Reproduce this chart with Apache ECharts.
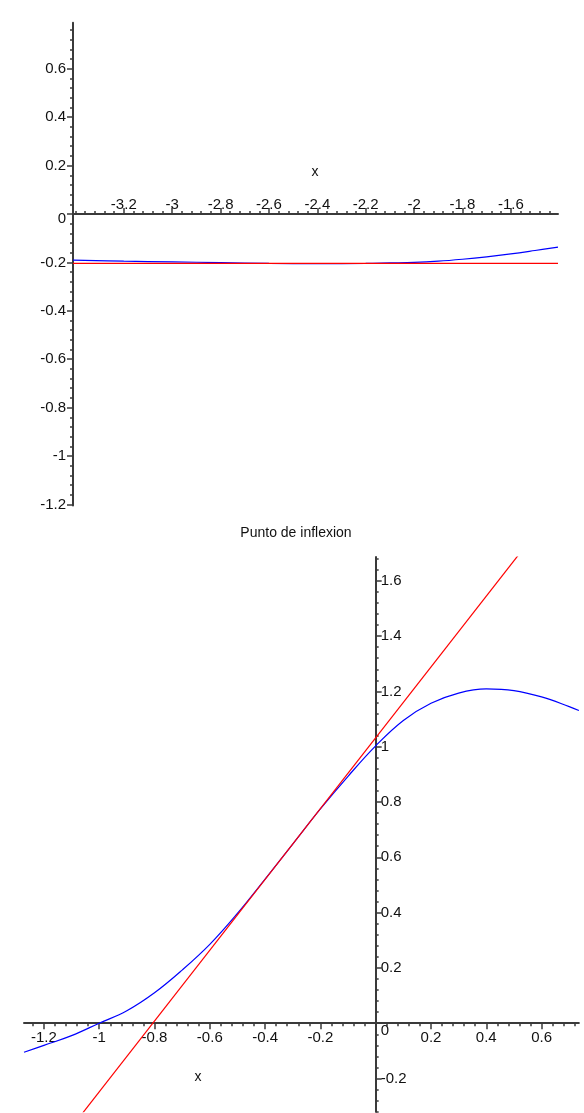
<!DOCTYPE html>
<html><head><meta charset="utf-8">
<script src="https://cdn.jsdelivr.net/npm/echarts@6/dist/echarts.min.js"></script>
<style>html,body{margin:0;padding:0;background:#fff}#c{width:584px;height:1113px}</style>
</head><body><div id="c"></div>
<script>
// ---- data ----
const topX    = [-3.41, -3.2, -3.0, -2.8, -2.6, -2.4, -2.2, -2.1, -2.0, -1.9, -1.8, -1.7, -1.6, -1.5, -1.405];
const topBlue = [-0.191, -0.195, -0.198, -0.201, -0.204, -0.205, -0.204, -0.202, -0.200, -0.195, -0.187, -0.177, -0.165, -0.151, -0.137];
const topRedX = [-3.41, -1.405];
const topRed  = [-0.204, -0.204];

const botX    = [-1.272, -1.2, -1.1, -1.0, -0.9, -0.8, -0.7, -0.6, -0.5, -0.4, -0.3, -0.2, -0.1, 0.0, 0.1, 0.2, 0.3, 0.4, 0.5, 0.6, 0.7, 0.735];
const botBlue = [-0.105, -0.080, -0.045, 0.000, 0.045, 0.110, 0.192, 0.285, 0.397, 0.521, 0.648, 0.775, 0.893, 1.003, 1.095, 1.157, 1.194, 1.209, 1.203, 1.180, 1.145, 1.131];
const botRedX = [-1.06, 0.52];
const botRed  = [-0.325, 1.698];

const topXTicks = [-3.2, -3, -2.8, -2.6, -2.4, -2.2, -2, -1.8, -1.6];
const topYTicks = [-1.2, -1, -0.8, -0.6, -0.4, -0.2, 0, 0.2, 0.4, 0.6];
const botXTicks = [-1.2, -1, -0.8, -0.6, -0.4, -0.2, 0.2, 0.4, 0.6];
const botYTicks = [-0.2, 0, 0.2, 0.4, 0.6, 0.8, 1, 1.2, 1.4, 1.6];

const titleText = 'Punto de inflexion';

// ---- helpers ----
function minorTicks(a, b, step) {
  const out = [];
  const n0 = Math.ceil(a / step - 1e-9), n1 = Math.floor(b / step + 1e-9);
  for (let i = n0; i <= n1; i++) out.push(Math.round(i * step * 1000) / 1000);
  return out;
}
function pairs(xs, ys) { return xs.map((x, i) => [x, ys[i]]); }
const FONT = "'Liberation Sans', Arial, sans-serif";
const AX = '#3a3a3a';
const TXT = '#111';
function fmt(v) { const r = Math.round(v * 10) / 10; return String(r); }

const W = 584, H = 1113;
const range = {
  tx: [-3.41, -1.405], ty: [-1.205, 0.79],
  bx: [-1.272, 0.735], by: [-0.32, 1.686]
};
const g0 = { left: 73, right: 26, top: 22.8, bottom: H - 505.6 };
const g1 = { left: 24, right: 5.1, top: 557, bottom: 1.3 };
// distance (px) from the grid edge to the zero line, so axes can sit on zero
const g0h = H - g0.top - g0.bottom;
const g1h = H - g1.top - g1.bottom;
const g1w = W - g1.left - g1.right;
const offTopX = -(range.ty[1] / (range.ty[1] - range.ty[0])) * g0h;           // from top edge
const offBotX = -(-range.by[0] / (range.by[1] - range.by[0])) * g1h;          // from bottom edge
const offBotY = -(range.bx[1] / (range.bx[1] - range.bx[0])) * g1w;           // from right edge

function majorAxis(o) {
  return Object.assign({
    type: 'value', splitLine: { show: false },
    axisLine: { show: true, onZero: false, lineStyle: { color: AX, width: 2 } },
    axisTick: { show: true, length: 6, lineStyle: { color: AX, width: 1.5 }, customValues: o.ticks },
    axisLabel: {
      show: true, customValues: o.ticks, margin: o.margin, color: TXT, fontSize: 15, fontFamily: FONT,
      formatter: function (v) { return (Math.abs(v) < 1e-9 && o.zeroPad) ? '{z|0}' : fmt(v); },
      rich: { z: { padding: [o.zeroPad || 0, 0, 0, 0], fontSize: 15, fontFamily: FONT, color: TXT } }
    }
  }, o.extra);
}
function minorAxis(o) {
  return Object.assign({
    type: 'value', splitLine: { show: false },
    axisLine: { show: false, onZero: false },
    axisTick: { show: true, length: 3, lineStyle: { color: AX, width: 1.5 }, customValues: o.ticks },
    axisLabel: { show: false }
  }, o.extra);
}

const option = {
  animation: false,
  backgroundColor: '#fff',
  grid: [
    Object.assign({ show: false, outerBoundsMode: 'none' }, g0),
    Object.assign({ show: false, outerBoundsMode: 'none' }, g1)
  ],
  xAxis: [
    majorAxis({ ticks: topXTicks, margin: 2, extra: { gridIndex: 0, position: 'top', offset: offTopX, min: range.tx[0], max: range.tx[1] } }),
    minorAxis({ ticks: minorTicks(range.tx[0], range.tx[1], 0.04), extra: { gridIndex: 0, position: 'top', offset: offTopX, min: range.tx[0], max: range.tx[1] } }),
    majorAxis({ ticks: botXTicks, margin: 7, extra: { gridIndex: 1, position: 'bottom', offset: offBotX, min: range.bx[0], max: range.bx[1] } }),
    minorAxis({ ticks: minorTicks(range.bx[0], range.bx[1], 0.04), extra: { gridIndex: 1, position: 'bottom', offset: offBotX, min: range.bx[0], max: range.bx[1] } })
  ],
  yAxis: [
    majorAxis({ ticks: topYTicks, margin: 7, zeroPad: 10, extra: { gridIndex: 0, position: 'left', min: range.ty[0], max: range.ty[1] } }),
    minorAxis({ ticks: minorTicks(range.ty[0], range.ty[1], 0.04), extra: { gridIndex: 0, position: 'left', min: range.ty[0], max: range.ty[1] } }),
    majorAxis({ ticks: botYTicks, margin: 5, zeroPad: 15, extra: { gridIndex: 1, position: 'right', offset: offBotY, min: range.by[0], max: range.by[1] } }),
    minorAxis({ ticks: minorTicks(range.by[0], range.by[1], 0.04), extra: { gridIndex: 1, position: 'right', offset: offBotY, min: range.by[0], max: range.by[1] } })
  ],
  graphic: [
    { type: 'text', x: 315, y: 172, style: { text: 'x', fill: TXT, font: '14px ' + FONT, align: 'center', verticalAlign: 'middle' } },
    { type: 'text', x: 198, y: 1077, style: { text: 'x', fill: TXT, font: '14px ' + FONT, align: 'center', verticalAlign: 'middle' } },
    { type: 'text', x: 296, y: 533.5, style: { text: titleText, fill: TXT, font: '14px ' + FONT, align: 'center', verticalAlign: 'middle' } }
  ],
  series: [
    { type: 'line', xAxisIndex: 0, yAxisIndex: 0, data: pairs(topX, topBlue), smooth: 0.4, showSymbol: false, clip: true,
      lineStyle: { color: '#0000ff', width: 1.2 }, silent: true },
    { type: 'line', xAxisIndex: 0, yAxisIndex: 0, data: pairs(topRedX, topRed), showSymbol: false, clip: true,
      lineStyle: { color: '#ff0000', width: 1.2 }, silent: true },
    { type: 'line', xAxisIndex: 2, yAxisIndex: 2, data: pairs(botX, botBlue), smooth: 0.4, showSymbol: false, clip: true,
      lineStyle: { color: '#0000ff', width: 1.2 }, silent: true },
    { type: 'line', xAxisIndex: 2, yAxisIndex: 2, data: pairs(botRedX, botRed), showSymbol: false, clip: true,
      lineStyle: { color: '#ff0000', width: 1.2 }, silent: true }
  ]
};
const chart = echarts.init(document.getElementById('c'), null, { renderer: 'canvas' });
chart.setOption(option);
</script></body></html>
